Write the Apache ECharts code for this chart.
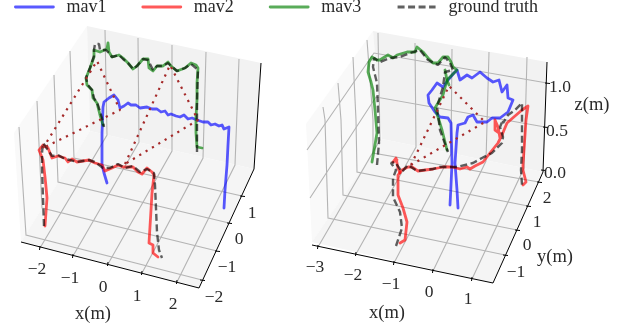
<!DOCTYPE html>
<html><head><meta charset="utf-8">
<style>html,body{margin:0;padding:0;background:#fff}#c{width:623px;height:330px}</style>
<script src="https://cdn.jsdelivr.net/npm/echarts@6/dist/echarts.min.js"></script>
</head><body><div id="c"></div>
<script>
const FONT = '"Liberation Serif"';
// Trajectories as read in the picture plane of each 3D panel
const leftMav1 = [[224,208],[225,190],[227,165],[228,145],[229,127],[224,129],[222,125],[219,126],[215,124],[211,125],[208,122],[203,122],[197,120],[192,118],[188,119],[184,115],[180,117],[176,116],[171,114],[168,115],[165,111],[161,112],[157,109],[152,109],[147,107],[140,108],[136,105],[131,105],[128,103],[124,106],[120,108],[118,100],[114,95],[109,98],[104,102],[103,107],[102,133],[102,165],[104,173],[107,183]];
const leftMav2 = [[45,226],[47,198],[46,187],[45,177],[43,160],[39,150],[37,148],[43,145],[48,148],[52,158],[58,156],[65,158],[68,162],[72,159],[77,162],[83,161],[89,160],[95,163],[102,165],[105,171],[112,168],[118,165],[123,167],[128,167],[133,167],[138,172],[142,174],[147,168],[152,172],[154,175],[152,193],[151,210],[149,243],[153,245],[153,253],[158,257]];
const leftMav3 = [[202,148],[197,147],[196,133],[196,117],[197,100],[197,83],[198,68],[196,65],[191,63],[185,68],[177,71],[171,66],[168,62],[163,66],[157,66],[153,71],[149,68],[148,59],[143,59],[137,66],[133,69],[128,63],[123,58],[119,55],[112,57],[109,52],[108,43],[107,49],[100,52],[94,50],[94,57],[90,68],[86,78],[87,85],[92,90],[93,98],[97,103],[100,115],[103,125]];
const leftTruthA = [[197,152],[197,133],[197,100],[198,70],[191,64],[185,68],[177,71],[171,66],[168,63],[163,66],[157,66],[153,70],[148,60],[143,59],[137,66],[133,69],[128,63],[123,59],[119,55],[112,57],[109,53],[106,50],[100,50],[99,44],[95,44],[94,50],[94,56],[90,68],[86,78],[88,85],[92,90],[94,98],[98,105],[102,118],[104,127]];
const leftTruthB = [[44,226],[43,198],[42,167],[42,153],[43,143],[48,150],[52,156],[58,155],[65,159],[70,160],[77,162],[89,160],[95,162],[103,168],[110,168],[118,164],[125,168],[133,166],[140,172],[147,169],[154,173],[155,185],[157,232],[159,250],[162,258]];
const leftLinksA = [[43,148],[97,61],[120,110],[43,148]];
const leftLinksB = [[125,164],[170,65],[198,120],[125,164]];

const rightMav1 = [[450,205],[451,185],[452,163],[451,123],[448,118],[440,117],[435,112],[429,103],[428,95],[432,90],[437,83],[443,87],[448,80],[454,73],[457,70],[460,80],[467,75],[472,78],[480,72],[487,78],[493,82],[499,80],[502,92],[507,85],[508,98],[513,100],[508,112],[500,118],[492,118],[487,122],[477,122],[473,115],[468,117],[465,123],[458,125],[457,133],[455,163],[457,190],[458,208]];
const rightMav2A = [[400,243],[405,240],[407,222],[403,208],[398,195],[398,175],[402,170],[408,167],[412,167],[418,171],[433,169],[443,167],[452,167],[460,169],[467,167],[470,169],[475,166],[483,162],[490,153],[498,143],[502,135],[495,130],[495,120],[498,127],[500,138],[502,135],[507,123],[515,116],[522,110],[528,106],[526,120],[523,165],[523,170],[526,182],[523,185]];
const rightMav2B = [[397,160],[393,162],[396,158],[398,168],[400,173]];
const rightMav3 = [[372,162],[374,160],[377,133],[375,110],[373,90],[371,82],[368,72],[369,62],[372,57],[377,60],[380,60],[383,58],[388,55],[393,58],[397,55],[407,52],[415,52],[417,47],[423,52],[428,58],[433,63],[438,63],[443,57],[448,57],[451,62],[453,67],[457,70],[447,80],[443,95],[438,103],[435,108],[438,117],[442,130],[447,150]];
const rightMav3B = [[445,70],[447,80],[449,85]];
const rightTruthA = [[377,165],[379,143],[378,110],[377,83],[375,75],[373,67],[374,58],[380,62],[390,58],[400,57],[410,53],[420,50],[428,60],[438,65],[445,57],[450,63],[453,70],[445,72],[443,87],[437,107],[440,130],[448,152]];
const rightTruthB = [[396,246],[402,228],[400,212],[393,197],[393,178],[396,170],[391,163],[395,162],[402,172],[408,165],[417,171],[433,169],[440,167],[457,167],[473,163],[482,158],[492,153],[502,143],[503,137],[500,127],[503,120],[503,123],[508,115],[515,110],[522,103],[522,117],[522,150],[521,170],[522,185]];
const rightLinks = [[411,165],[449,86],[485,122],[411,165]];

// 3D box faces in the picture plane
const paneSide = [[[14,133],[87,26],[90,131],[21,242]], [[306,124],[373,31],[382,139],[312,242]]];
const paneBack = [[[87,26],[261,63],[254,169],[90,131]], [[373,31],[547,62],[543,172],[382,139]]];
const paneFloor = [[[21,242],[90,131],[254,169],[199,288]], [[312,242],[382,139],[543,172],[493,283]]];
// grid lines, each running tick -> floor corner -> wall top
const gridLines = [
 [[40,248],[107,135],[105,30]],[[73,256],[139,142],[138,38]],[[108,264],[172,151],[172,45]],[[142,273],[203,158],[206,52]],[[177,282],[235,165],[239,59]],
 [[202,280],[26,235],[19,127]],[[217,251],[42,208],[37,101]],[[229,223],[58,182],[54,75]],[[242,196],[74,158],[70,51]],
 [[318,247],[380,140],[378,33]],[[356,254],[416,147],[415,43]],[[394,263],[451,154],[452,49]],[[433,271],[486,161],[489,52]],[[472,279],[524,168],[527,57]],
 [[505,255],[328,218],[325,120],[323,107]],[[517,230],[343,195],[341,120],[338,83]],[[528,206],[357,172],[356,120],[353,57]],[[539,182],[373,153],[373,120],[367,40]],
 [[547,83],[374,53],[307,150]],[[545,127],[376,97],[310,198]]
];
const axisLines = [[[21,242],[199,288],[254,169],[261,63]], [[312,245],[493,283],[543,172],[547,62]]];
const xTickMarks = [[40,248],[73,256],[108,264],[142,273],[177,282],[318,247],[356,254],[394,263],[433,271],[472,279]];
const yTickMarks = [[202,280],[217,251],[229,223],[242,196],[505,255],[517,230],[528,206],[539,182],[547,83],[545,127],[543,170]];
// tick and axis labels: text, x, y
const tickLabels = [['−2',37,269],['−1',70,278],['0',103,287],['1',137,296],['2',173,304],['−2',214,297],['−1',227,267],['0',239,239],['1',252,213],
 ['−3',315,267],['−2',353,275],['−1',391,284],['0',429,292],['1',468,299],['−1',516,272],['0',527,245],['1',537,222],['2',547,198],['0.0',555,173],['0.5',557,131],['1.0',560,87]];
const axisNames = [['x(m)',93,314],['x(m)',387,313],['y(m)',555,257],['z(m)',592,105]];

const BLUE='#0000ff',RED='#ff0000',GREEN='#008000',TRUTH='#000000',LINK='#a52a2a';
function shapes(name, arrays, render, z){return {type:'custom',name,coordinateSystem:'cartesian2d',silent:true,clip:false,z,
  data:arrays.map((a,i)=>({value:[i,0]})),renderItem:(p,api)=>render(arrays[p.dataIndex],api),animation:false};}
const poly=fill=>(pts,api)=>({type:'polygon',shape:{points:pts.map(q=>api.coord(q))},style:{fill,stroke:null}});
const path=(stroke,lineWidth)=>(pts,api)=>({type:'polyline',shape:{points:pts.map(q=>api.coord(q))},style:{fill:null,stroke,lineWidth}});
const label=(fontSize)=>(t,api)=>{const c=api.coord([t[1],t[2]]);return {type:'text',x:c[0],y:c[1],style:{text:t[0],fill:'#2a2a2a',font:fontSize+'px '+FONT,align:'center',verticalAlign:'middle'}};};
function track(name,data,color,z){return {type:'line',name,data,symbol:'none',z,animation:false,silent:true,clip:false,
  lineStyle:{color,width:2.8,opacity:0.65,join:'round',cap:'round'},itemStyle:{color,opacity:0.65}};}
function truth(name,data){return {type:'line',name,data,symbol:'none',z:6,animation:false,silent:true,clip:false,
  lineStyle:{color:TRUTH,width:2.4,opacity:0.62,type:[7,3.5]},itemStyle:{color:TRUTH,opacity:0.62}};}
function links(data){return {type:'line',name:'links',data,symbol:'none',z:7,animation:false,silent:true,clip:false,
  lineStyle:{color:LINK,width:2.2,type:[2.2,5.2]}};}

const chart=echarts.init(document.getElementById('c'),null,{renderer:'canvas'});
chart.setOption({
 animation:false,backgroundColor:'#fff',
 grid:{left:0,top:0,right:0,bottom:0},
 xAxis:{type:'value',min:0,max:623,show:false},
 yAxis:{type:'value',min:0,max:330,inverse:true,show:false},
 legend:{data:['mav1','mav2','mav3','ground truth'],left:14,top:-2,padding:0,itemWidth:38,itemHeight:14,itemGap:35,selectedMode:false,
   itemStyle:{opacity:0,borderWidth:0},
   lineStyle:{width:2.8},
   textStyle:{fontFamily:FONT,fontSize:18,color:'#2a2a2a',padding:[0,0,0,8]}},
 series:[
  shapes('side',paneSide,poly('#f9f9f9'),1),
  shapes('back',paneBack,poly('#f2f2f2'),1),
  shapes('floor',paneFloor,poly('#f5f5f5'),1),
  shapes('grid',gridLines,path('#b4b4b4',1.1),2),
  shapes('axes',axisLines,path('#000',1),3),
  shapes('xticks',xTickMarks.map(t=>[[t[0],t[1]-2],[t[0]-0.5,t[1]+2]]),path('#000',1),3),
  shapes('yticks',yTickMarks.map(t=>[[t[0]-2,t[1]],[t[0]+3,t[1]+0.5]]),path('#000',1),3),
  shapes('ticklabels',tickLabels,label(17.5),8),
  shapes('names',axisNames,label(18.5),8),
  track('mav1',leftMav1,BLUE,4),
  track('mav2',leftMav2,RED,4),
  track('mav3',leftMav3,GREEN,5),
  truth('ground truth',leftTruthA),
  truth('ground truth',leftTruthB),
  links(leftLinksA),links(leftLinksB),
  track('mav1',rightMav1,BLUE,4),
  track('mav2',rightMav2A,RED,4),
  track('mav2',rightMav2B,RED,4),
  track('mav3',rightMav3,GREEN,5),
  track('mav3',rightMav3B,GREEN,5),
  truth('ground truth',rightTruthA),
  truth('ground truth',rightTruthB),
  links(rightLinks)
 ]
});
</script></body></html>
